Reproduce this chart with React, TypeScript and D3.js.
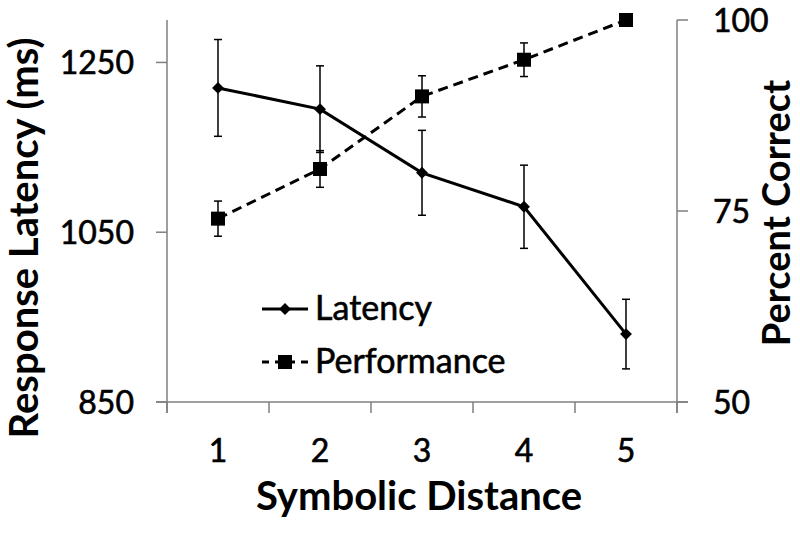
import React, { useEffect } from "react"
import * as d3 from "d3"

// symbolic distance categories
const distances = ["1", "2", "3", "4", "5"]
// response latency (ms) and its error
const latency = [1220, 1195, 1120, 1080, 930]
const latencyErr = [57, 51, 50, 49, 41]
// percent correct and its error
const performance = [74.0, 80.5, 90.0, 94.8, 100]
const performanceErr = [2.3, 2.4, 2.7, 2.2, 0]
const latencyTicks = [850, 1050, 1250]
const percentTicks = [50, 75, 100]

const width = 800
const height = 533
const left = 167
const right = 677
const top = 20
const bottom = 402
const font = "Lato, 'Open Sans', sans-serif"

const App = () => {
    useEffect(() => {
        document.body.style.margin = "0"
    }, [])

    const x = d3.scaleBand().domain(distances).range([left, right])
    const yL = d3.scaleLinear().domain([850, 1300]).range([bottom, top])
    const yR = d3.scaleLinear().domain([50, 100]).range([bottom, top])
    const cx = (d: string) => (x(d) as number) + x.bandwidth() / 2

    const latLine = d3.line<number>().x((d, i) => cx(distances[i])).y(d => yL(d))
    const perfLine = d3.line<number>().x((d, i) => cx(distances[i])).y(d => yR(d))
    const diamond = d3.symbol().type(d3.symbolDiamond2).size(90)
    const axisColor = "#7f7f7f"
    const boundaries = [...distances.map(d => x(d) as number), right]
    // a thin outline makes Lato look closer to the heavier original text
    const heavy = { stroke: "#000", strokeWidth: 0.6 }

    return (
        <svg width={width} height={height} style={{ display: "block" }}>
            {/* axes */}
            <line x1={left} x2={left} y1={top} y2={bottom + 11} stroke={axisColor} strokeWidth={1.5} />
            <line x1={right} x2={right} y1={top} y2={bottom + 11} stroke={axisColor} strokeWidth={1.5} />
            <line x1={left - 11} x2={right + 11} y1={bottom} y2={bottom} stroke={axisColor} strokeWidth={1.5} />
            {boundaries.map((b, i) => (
                <line key={"xt" + i} x1={b} x2={b} y1={bottom} y2={bottom + 11} stroke={axisColor} strokeWidth={1.5} />
            ))}
            {latencyTicks.map(t => (
                <g key={"l" + t}>
                    <line x1={left - 11} x2={left} y1={yL(t)} y2={yL(t)} stroke={axisColor} strokeWidth={1.5} />
                    <text x={134} y={yL(t)} dy="0.36em" textAnchor="end" fontFamily={font} fontSize={32} {...heavy}>{t}</text>
                </g>
            ))}
            {percentTicks.map(t => (
                <g key={"p" + t}>
                    <line x1={right} x2={right + 11} y1={yR(t)} y2={yR(t)} stroke={axisColor} strokeWidth={1.5} />
                    <text x={713} y={yR(t)} dy="0.36em" textAnchor="start" fontFamily={font} fontSize={32} {...heavy}>{t}</text>
                </g>
            ))}
            {distances.map(d => (
                <text key={"x" + d} x={cx(d)} y={462} textAnchor="middle" fontFamily={font} fontSize={32} {...heavy}>{d}</text>
            ))}

            {/* axis titles */}
            <text transform="translate(38,238) rotate(-90)" textAnchor="middle" fontFamily={font} fontSize={40} fontWeight="bold">Response Latency (ms)</text>
            <text transform="translate(790,213) rotate(-90)" textAnchor="middle" fontFamily={font} fontSize={38} fontWeight="bold">Percent Correct</text>
            <text x={419} y={510} textAnchor="middle" fontFamily={font} fontSize={40} fontWeight="bold">Symbolic Distance</text>

            {/* performance */}
            <path d={perfLine(performance) ?? ""} fill="none" stroke="#000" strokeWidth={3} strokeDasharray="10,6" />
            {performance.map((v, i) => performanceErr[i] > 0 && (
                <g key={"pe" + i} stroke="#000" strokeWidth={1.5}>
                    <line x1={cx(distances[i])} x2={cx(distances[i])} y1={yR(v + performanceErr[i])} y2={yR(v - performanceErr[i])} />
                    <line x1={cx(distances[i]) - 4} x2={cx(distances[i]) + 4} y1={yR(v + performanceErr[i])} y2={yR(v + performanceErr[i])} />
                    <line x1={cx(distances[i]) - 4} x2={cx(distances[i]) + 4} y1={yR(v - performanceErr[i])} y2={yR(v - performanceErr[i])} />
                </g>
            ))}
            {performance.map((v, i) => (
                <rect key={"ps" + i} x={cx(distances[i]) - 7} y={yR(v) - 7} width={14} height={14} fill="#000" />
            ))}

            {/* latency */}
            <path d={latLine(latency) ?? ""} fill="none" stroke="#000" strokeWidth={3} />
            {latency.map((v, i) => (
                <g key={"le" + i} stroke="#000" strokeWidth={1.5}>
                    <line x1={cx(distances[i])} x2={cx(distances[i])} y1={yL(v + latencyErr[i])} y2={yL(v - latencyErr[i])} />
                    <line x1={cx(distances[i]) - 4} x2={cx(distances[i]) + 4} y1={yL(v + latencyErr[i])} y2={yL(v + latencyErr[i])} />
                    <line x1={cx(distances[i]) - 4} x2={cx(distances[i]) + 4} y1={yL(v - latencyErr[i])} y2={yL(v - latencyErr[i])} />
                </g>
            ))}
            {latency.map((v, i) => (
                <path key={"ld" + i} d={diamond() ?? ""} transform={`translate(${cx(distances[i])},${yL(v)})`} fill="#000" />
            ))}

            {/* legend */}
            <g>
                <line x1={262} x2={308} y1={309} y2={309} stroke="#000" strokeWidth={3} />
                <path d={diamond() ?? ""} transform="translate(285,309)" fill="#000" />
                <text x={315} y={320} fontFamily={font} fontSize={34} {...heavy}>Latency</text>
                <line x1={262} x2={308} y1={362} y2={362} stroke="#000" strokeWidth={3} strokeDasharray="7,6" />
                <rect x={278} y={355} width={14} height={14} fill="#000" />
                <text x={315} y={373} fontFamily={font} fontSize={34} {...heavy}>Performance</text>
            </g>
        </svg>
    )
}

export default App
